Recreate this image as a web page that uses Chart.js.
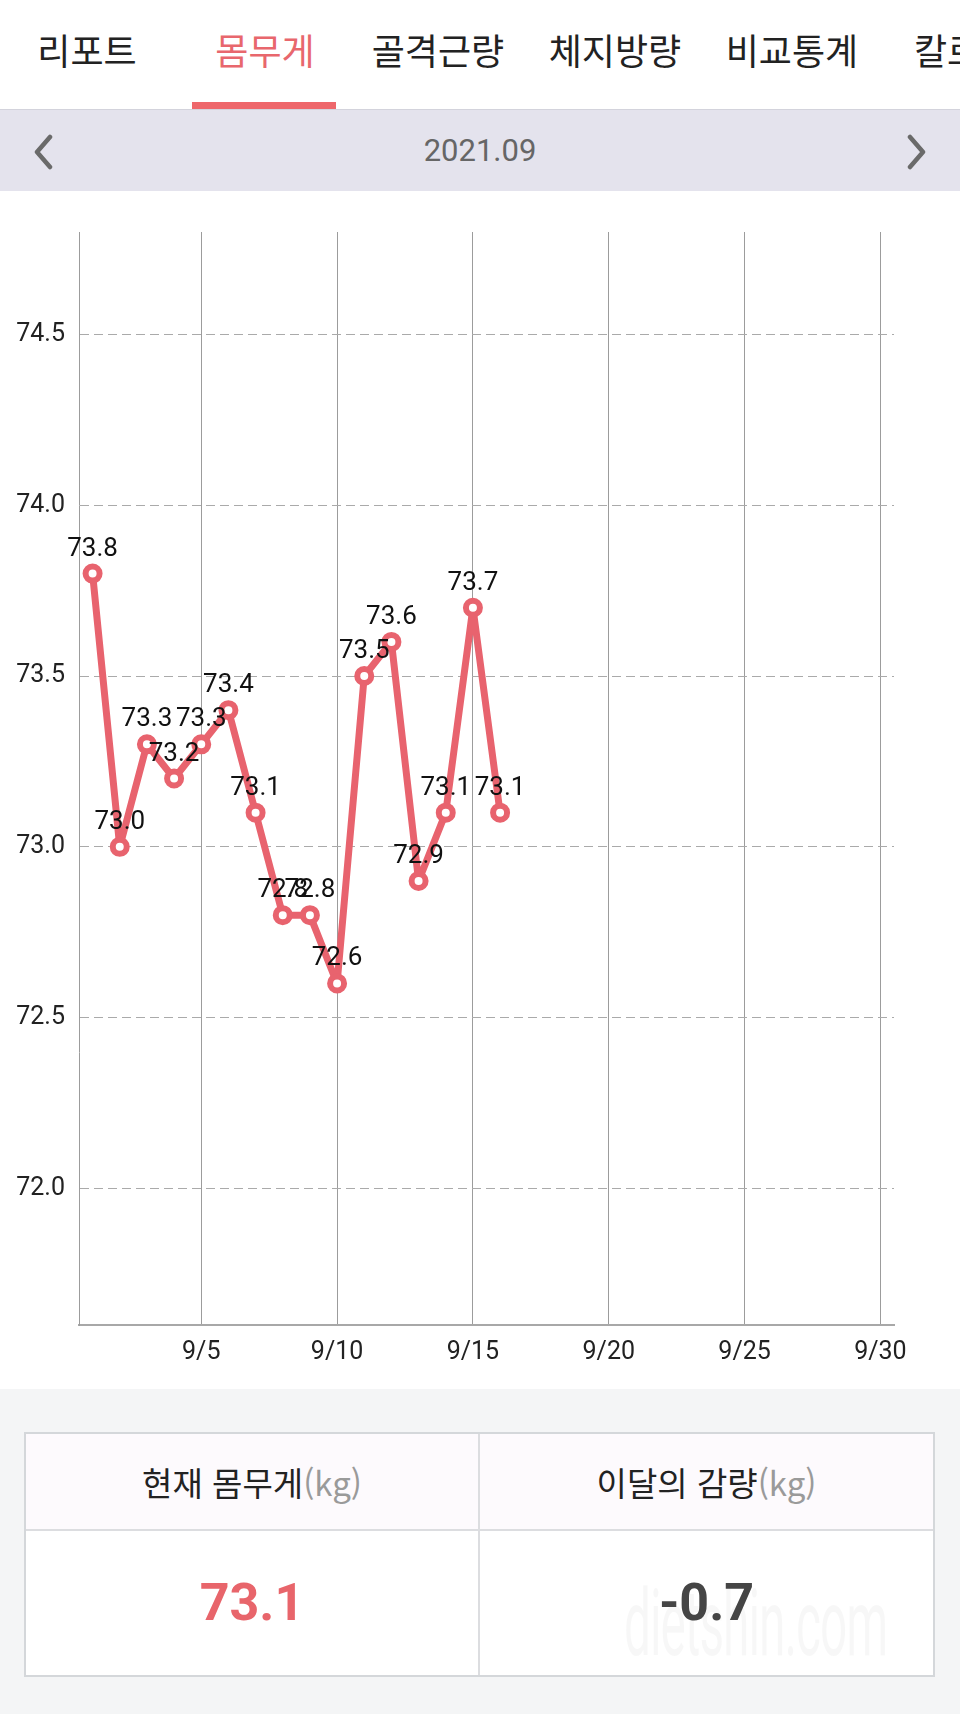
<!DOCTYPE html>
<html lang="ko">
<head>
<meta charset="utf-8">
<title>몸무게 리포트</title>
<script src="https://cdn.jsdelivr.net/npm/chart.js@4.4.1/dist/chart.umd.min.js"></script>
<style>
    body {
        margin: 0;
        width: 960px;
        height: 1714px;
        background: #fff;
        position: relative;
        overflow: hidden;
        font-family: Roboto, "Noto Sans CJK KR", sans-serif;
    }
    .tab {
        position: absolute;
        top: 28px;
        width: 180px;
        text-align: center;
        font-family: "Noto Sans CJK KR", sans-serif;
        font-size: 36px;
        line-height: 42px;
        color: #222;
        white-space: nowrap;
    }
    .tab.active { color: #e8676d; }
    #underline {
        position: absolute;
        left: 192px; top: 102px;
        width: 144px; height: 8px;
        background: #ee676b;
    }
    #monthBar {
        position: absolute;
        left: 0; top: 109px;
        width: 960px; height: 82px;
        background: #e4e3ed;
        border-top: 1px solid #d3d3dc;
        box-sizing: border-box;
    }
    #month {
        position: absolute;
        left: 0; top: 21px;
        width: 960px;
        text-align: center;
        font-size: 31px;
        line-height: 40px;
        color: #666;
    }
    #monthBar svg { position: absolute; top: 24px; }
    #chartWrap {
        position: absolute;
        left: 0; top: 191px;
        width: 960px; height: 1198px;
    }
    #bottom {
        position: absolute;
        left: 0; top: 1389px;
        width: 960px; height: 325px;
        background: #f4f5f6;
    }
    #summary {
        position: absolute;
        left: 24px; top: 43px;
        width: 911px; height: 245px;
        border: 2px solid #d4d7da;
        box-sizing: border-box;
        background: #fff;
    }
    .cell {
        position: absolute;
        text-align: center;
        box-sizing: border-box;
    }
    .head {
        top: 0; height: 97px;
        background: #fdfafd;
        border-bottom: 2px solid #dcdde0;
        font-family: "Noto Sans CJK KR", sans-serif;
        font-size: 33px;
        line-height: 97px;
        color: #222;
    }
    .head span { color: #9a9a9a; }
    .val {
        top: 97px; height: 144px;
        font-size: 52px;
        font-weight: bold;
        line-height: 144px;
    }
    .left { left: 0; width: 454px; border-right: 2px solid #dcdde0; }
    .right { left: 454px; width: 453px; }
    #mark {
        position: absolute;
        left: 598px; top: 140px;
        font-size: 92px;
        line-height: 100px;
        color: rgba(0, 0, 0, 0.03);
        transform: scaleX(0.52);
        transform-origin: left top;
        letter-spacing: -2px;
    }
</style>
</head>
<body>

<div class="tab" style="left: -3px;">리포트</div>
<div class="tab active" style="left: 175px;">몸무게</div>
<div class="tab" style="left: 348px;">골격근량</div>
<div class="tab" style="left: 525px;">체지방량</div>
<div class="tab" style="left: 702px;">비교통계</div>
<div class="tab" style="left: 914px; width: auto; text-align: left;">칼로리</div>
<div id="underline"></div>

<div id="monthBar">
    <svg style="left: 30px;" width="26" height="36" viewBox="0 0 26 36">
        <polyline points="20,3 7,18 20,33" fill="none" stroke="#6a6a6a" stroke-width="4.5" stroke-linecap="round" stroke-linejoin="round"/>
    </svg>
    <div id="month">2021.09</div>
    <svg style="left: 904px;" width="26" height="36" viewBox="0 0 26 36">
        <polyline points="6,3 19,18 6,33" fill="none" stroke="#6a6a6a" stroke-width="4.5" stroke-linecap="round" stroke-linejoin="round"/>
    </svg>
</div>

<div id="chartWrap">
    <canvas id="weightChart" width="960" height="1198"></canvas>
</div>

<div id="bottom">
    <div id="summary">
        <div class="cell head left">현재 몸무게<span>(kg)</span></div>
        <div class="cell head right">이달의 감량<span>(kg)</span></div>
        <div class="cell val left" style="color: #e8656b;">73.1</div>
        <div id="mark">dietshin.com</div>
        <div class="cell val right" style="color: #454545;">-0.7</div>
    </div>
</div>

<script>
// September 2021 weigh-ins (day of month -> kg)
const days = [1, 2, 3, 4, 5, 6, 7, 8, 9, 10, 11, 12, 13, 14, 15, 16];
const weights = [73.8, 73.0, 73.3, 73.2, 73.3, 73.4, 73.1, 72.8, 72.8, 72.6, 73.5, 73.6, 72.9, 73.1, 73.7, 73.1];

const xTicks = [5, 10, 15, 20, 25, 30];
const yTicks = [72.0, 72.5, 73.0, 73.5, 74.0, 74.5];

const lineColor = "#e8636e";

// value labels above every point
const pointLabels = {
    id: "pointLabels",
    afterDatasetsDraw(chart) {
        let ctx = chart.ctx;
        let meta = chart.getDatasetMeta(0);
        ctx.save();
        ctx.font = "26px Roboto";
        ctx.fillStyle = "#111";
        ctx.textAlign = "center";
        ctx.textBaseline = "alphabetic";
        meta.data.forEach(function(pt, i) {
            ctx.fillText(weights[i].toFixed(1), pt.x, pt.y - 18);
        });
        ctx.restore();
    }
};

new Chart(document.getElementById("weightChart"), {
    type: "line",
    data: {
        datasets: [{
            data: days.map((d, i) => ({ x: d, y: weights[i] })),
            borderColor: lineColor,
            borderWidth: 7,
            borderJoinStyle: "round",
            borderCapStyle: "round",
            tension: 0,
            pointRadius: 7,
            pointBorderWidth: 6,
            pointBorderColor: lineColor,
            pointBackgroundColor: "#fff"
        }]
    },
    options: {
        responsive: false,
        animation: false,
        devicePixelRatio: 1,
        layout: {
            padding: { top: 41, right: 66, left: 0, bottom: 0 }
        },
        plugins: {
            legend: { display: false },
            tooltip: { enabled: false }
        },
        scales: {
            x: {
                type: "linear",
                min: 0.5,
                max: 30.5,
                afterBuildTicks: function(scale) {
                    scale.ticks = xTicks.map(v => ({ value: v }));
                },
                afterFit: function(scale) {
                    scale.height = 64;
                },
                ticks: {
                    color: "#222",
                    font: { family: "Roboto", size: 25 },
                    padding: 13,
                    maxRotation: 0,
                    callback: v => "9/" + v
                },
                grid: {
                    color: "#9c9c9c",
                    lineWidth: 1,
                    drawTicks: false
                },
                border: {
                    color: "#a8a8a8",
                    width: 2
                }
            },
            y: {
                min: 71.6,
                max: 74.8,
                afterBuildTicks: function(scale) {
                    scale.ticks = yTicks.map(v => ({ value: v }));
                },
                afterFit: function(scale) {
                    scale.width = 79;
                },
                ticks: {
                    color: "#222",
                    font: { family: "Roboto", size: 25 },
                    padding: 14,
                    callback: v => Number(v).toFixed(1)
                },
                grid: {
                    color: "#aaaaaa",
                    lineWidth: 1,
                    drawTicks: false
                },
                border: {
                    color: "#9c9c9c",
                    width: 1,
                    dash: [9, 5]
                }
            }
        }
    },
    plugins: [pointLabels]
});
console.log("weight chart created");
</script>
</body>
</html>
